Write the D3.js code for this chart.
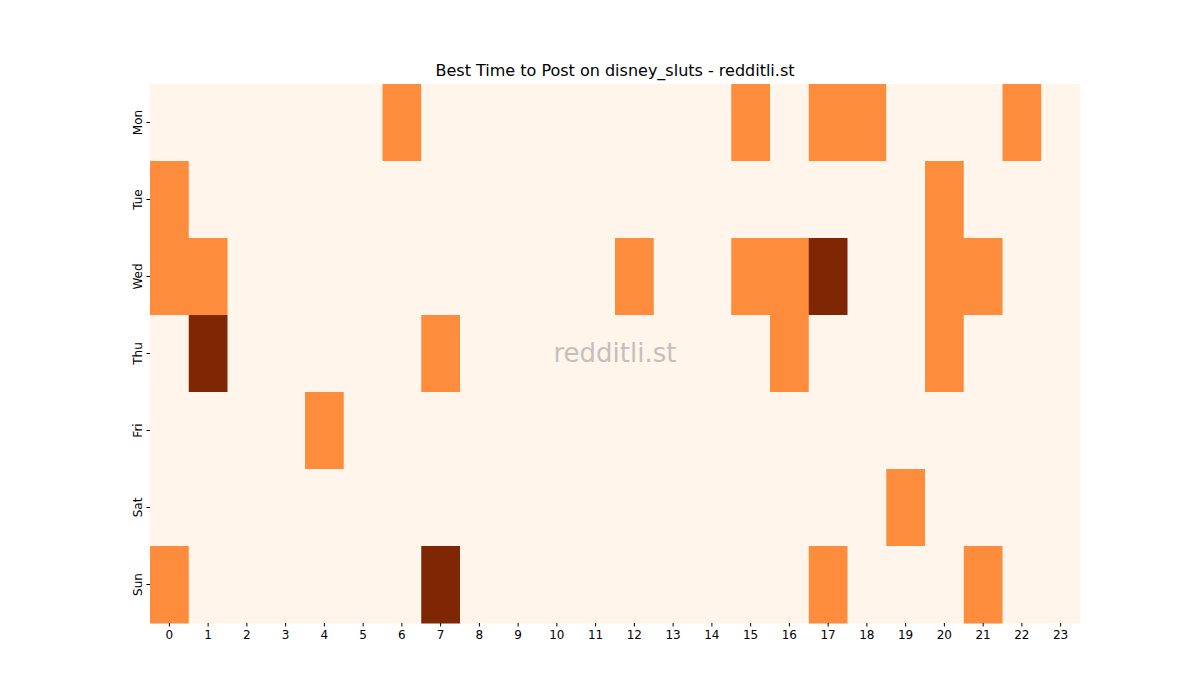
<!DOCTYPE html>
<html>
<head>
<meta charset="utf-8">
<script src="https://cdn.jsdelivr.net/npm/d3@7"></script>
<style>body{margin:0;background:#fff;} text{font-family:"DejaVu Sans",sans-serif;}</style>
</head>
<body>
<svg id="chart" width="1200" height="700"></svg>
<script>
const days = ['Mon', 'Tue', 'Wed', 'Thu', 'Fri', 'Sat', 'Sun'];
const hours = d3.range(24);
// posts per hour for each day (0 = none)
const mon = [0,0,0,0,0,0,1,0,0,0,0,0,0,0,0,1,0,1,1,0,0,0,1,0];
const tue = [1,0,0,0,0,0,0,0,0,0,0,0,0,0,0,0,0,0,0,0,1,0,0,0];
const wed = [1,1,0,0,0,0,0,0,0,0,0,0,1,0,0,1,1,2,0,0,1,1,0,0];
const thu = [0,2,0,0,0,0,0,1,0,0,0,0,0,0,0,0,1,0,0,0,1,0,0,0];
const fri = [0,0,0,0,1,0,0,0,0,0,0,0,0,0,0,0,0,0,0,0,0,0,0,0];
const sat = [0,0,0,0,0,0,0,0,0,0,0,0,0,0,0,0,0,0,0,1,0,0,0,0];
const sun = [1,0,0,0,0,0,0,2,0,0,0,0,0,0,0,0,0,1,0,0,0,1,0,0];
const rows = [mon, tue, wed, thu, fri, sat, sun];

const svg = d3.select('#chart');
const x = d3.scaleBand().domain(hours).range([150, 1080]);
const y = d3.scaleBand().domain(days).range([84, 623]);
const color = d3.scaleOrdinal().domain([0, 1, 2]).range(['#fff5eb', '#fd8d3c', '#7f2704']);

const cells = [];
rows.forEach((r, i) => r.forEach((v, h) => cells.push({day: days[i], hour: h, v})));

svg.append('g').selectAll('rect').data(cells).enter().append('rect')
    .attr('x', d => x(d.hour))
    .attr('y', d => y(d.day))
    .attr('width', x.bandwidth() + 0.5)
    .attr('height', y.bandwidth() + 0.5)
    .attr('fill', d => color(d.v));

const xAxis = svg.append('g').attr('transform', 'translate(0,623)')
    .call(d3.axisBottom(x).tickSize(3.5).tickPadding(4));
const yAxis = svg.append('g').attr('transform', 'translate(150,0)')
    .call(d3.axisLeft(y).tickSize(3.5).tickPadding(4));
[xAxis, yAxis].forEach(a => {
    a.select('.domain').remove();
    a.selectAll('text').style('font-size', '12px').attr('fill', '#000');
    a.selectAll('line').attr('stroke', '#000');
});
yAxis.selectAll('text')
    .attr('transform', function () { const t = d3.select(this.parentNode).attr('transform'); return null; })
    .each(function () {
        d3.select(this).attr('text-anchor', 'middle').attr('x', null).attr('dy', null)
            .attr('transform', 'translate(-12,0) rotate(-90)').attr('dominant-baseline', 'middle');
    });

svg.append('text').attr('x', 615).attr('y', 76).attr('text-anchor', 'middle')
    .style('font-size', '16px').text('Best Time to Post on disney_sluts - redditli.st');

svg.append('text').attr('x', 615).attr('y', 362).attr('text-anchor', 'middle')
    .style('font-size', '26px').attr('fill', '#7f7f7f').attr('opacity', 0.45).text('redditli.st');
</script>
</body>
</html>
